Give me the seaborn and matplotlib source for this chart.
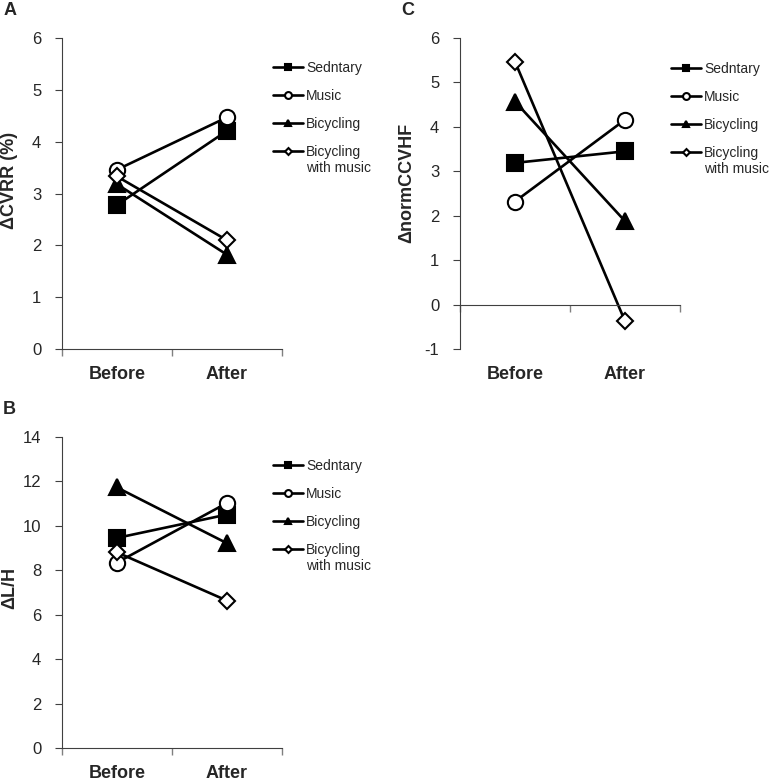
import numpy as np
import pandas as pd
import matplotlib
matplotlib.use("Agg")
import matplotlib.pyplot as plt
import seaborn as sns

# categories
periods = ["Before", "After"]
groups = ["Sedntary", "Music", "Bicycling", "Bicycling"]
last_label_extra = "with music"

# panel A: delta CVRR (%)
cvrr_before = [2.78, 3.46, 3.18, 3.33]
cvrr_after = [4.21, 4.47, 1.82, 2.10]

# panel B: delta L/H
lh_before = [9.45, 8.34, 11.72, 8.80]
lh_after = [10.50, 11.02, 9.21, 6.63]

# panel C: delta normCCVHF
hf_before = [3.19, 2.32, 4.57, 5.47]
hf_after = [3.45, 4.16, 1.88, -0.37]

# marker styles per group
markers = ["s", "o", "^", "D"]
faces = ["black", "white", "black", "white"]
msizes = [11, 11, 11, 7.8]

sns.set_style("ticks")
plt.rcParams["font.family"] = ["Liberation Sans", "DejaVu Sans"]
plt.rcParams["axes.linewidth"] = 0.8
plt.rcParams["axes.unicode_minus"] = False

fig = plt.figure(figsize=(7.71, 7.78), dpi=100)
axA = fig.add_axes([0.0804, 0.5514, 0.2853, 0.3997])
axC = fig.add_axes([0.5966, 0.5514, 0.2853, 0.3997])
axB = fig.add_axes([0.0804, 0.0386, 0.2853, 0.4000])


def draw(ax, before, after, ylabel, ylim, yticks, label_xy, legend_xy, zero_axis=False):
    df = pd.DataFrame({
        "group": np.repeat(np.arange(len(groups)), len(periods)),
        "period": np.tile(np.arange(len(periods)), len(groups)),
        "value": np.column_stack([before, after]).ravel(),
    })
    for i, (g, m, fc, ms) in enumerate(zip(groups, markers, faces, msizes)):
        sns.lineplot(data=df[df["group"] == i], x="period", y="value", ax=ax,
                     color="black", linewidth=1.9, marker=m, markersize=ms,
                     markerfacecolor=fc, markeredgecolor="black",
                     markeredgewidth=1.5, label=g, sort=False, errorbar=None)

    ax.set_xlim(-0.5, len(periods) - 0.5)
    ax.set_ylim(ylim)
    ax.set_yticks(yticks)
    ax.set_xlabel("")
    ax.set_ylabel(ylabel, fontsize=13, fontweight="bold")
    ax.yaxis.set_label_coords(*label_xy)
    sns.despine(ax=ax)
    for s in ["left", "bottom"]:
        ax.spines[s].set_color("#404040")

    ax.set_xticks(np.arange(len(periods)))
    ax.set_xticks(np.arange(len(periods) + 1) - 0.5, minor=True)
    ax.tick_params(axis="x", which="minor", length=5, width=1, color="#808080")
    ax.tick_params(axis="y", length=5, width=0.8, color="#404040", pad=10,
                   labelsize=12)

    if zero_axis:
        ax.spines["bottom"].set_position(("data", 0))
        ax.set_xticklabels(["" for _ in periods])
        ax.tick_params(axis="x", which="major", length=0)
        sec = ax.secondary_xaxis("bottom")
        sec.set_xticks(np.arange(len(periods)), periods)
        sec.tick_params(length=0, pad=12, labelsize=13)
        for s in sec.spines.values():
            s.set_visible(False)
        for t in sec.get_xticklabels():
            t.set_fontweight("bold")
    else:
        ax.set_xticklabels(periods)
        ax.tick_params(axis="x", which="major", length=0, pad=12, labelsize=13)
        for t in ax.get_xticklabels():
            t.set_fontweight("bold")

    leg = ax.legend(loc="upper left", bbox_to_anchor=legend_xy,
                    bbox_transform=fig.transFigure, frameon=False, borderpad=0,
                    borderaxespad=0, handlelength=2.2, handletextpad=0.2,
                    labelspacing=1.0, fontsize=10, markerscale=0.45)
    # second line of the last legend label, under "Bicycling"
    ax.annotate(last_label_extra, xy=(0, 0), xycoords=leg.get_texts()[-1],
                xytext=(0, -1.5), textcoords="offset points",
                ha="left", va="top", fontsize=10, zorder=10,
                annotation_clip=False)


draw(axA, cvrr_before, cvrr_after, "ΔCVRR (%)", (0, 6), range(0, 7),
     (-0.20, 0.543), (0.354, 0.9214))
draw(axB, lh_before, lh_after, "ΔL/H", (0, 14), range(0, 15, 2),
     (-0.20, 0.514), (0.354, 0.410))
draw(axC, hf_before, hf_after, "ΔnormCCVHF", (-1, 6), range(-1, 7),
     (-0.205, 0.534), (0.870, 0.9203), zero_axis=True)

fig.text(0.004, 0.997, "A", fontsize=13, fontweight="bold", va="top")
fig.text(0.004, 0.484, "B", fontsize=13, fontweight="bold", va="top")
fig.text(0.521, 0.997, "C", fontsize=13, fontweight="bold", va="top")

fig.savefig("out.png", dpi=100)
